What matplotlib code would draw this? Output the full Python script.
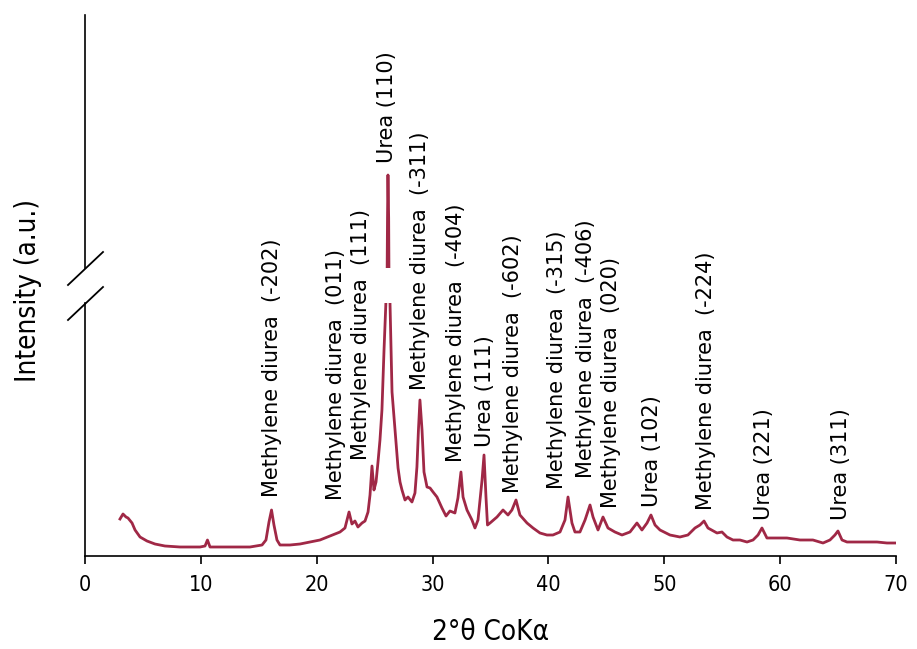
import matplotlib
matplotlib.use("Agg")
import matplotlib.pyplot as plt
from matplotlib.lines import Line2D

two_theta = [3.02, 3.28, 3.54, 3.71, 4.06, 4.32, 4.75, 5.35, 6.04, 6.90, 8.20, 9.93, 10.36, 10.57, 10.79,
             12.51, 14.24, 15.28, 15.62, 15.88, 16.10, 16.31, 16.57, 16.83, 17.69, 18.56, 19.42, 20.28,
             21.15, 22.01, 22.44, 22.79, 23.04, 23.30, 23.56, 23.91, 24.17, 24.43, 24.60, 24.77, 24.94,
             25.12, 25.29, 25.46, 25.63, 25.81, 25.98, 26.02, 26.11, 26.15, 26.21, 26.28, 26.32, 26.50,
             26.76, 27.02, 27.19, 27.36, 27.62, 27.88, 28.22, 28.48, 28.65, 28.78, 28.91, 29.09, 29.26,
             29.52, 29.78, 30.04, 30.38, 30.81, 31.16, 31.50, 31.93, 32.19, 32.45, 32.63, 32.97, 33.40,
             33.66, 33.92, 34.27, 34.44, 34.61, 34.74, 34.96, 35.56, 36.08, 36.51, 36.85, 37.20, 37.54,
             38.15, 38.67, 39.27, 39.87, 40.39, 41.00, 41.43, 41.69, 42.03, 42.29, 42.72, 43.16, 43.59,
             43.85, 44.28, 44.71, 45.14, 45.74, 46.35, 47.04, 47.64, 48.07, 48.51, 48.85, 49.20, 49.63,
             50.49, 51.35, 52.04, 52.65, 53.08, 53.43, 53.77, 54.55, 54.98, 55.41, 55.93, 56.53, 57.14,
             57.66, 58.09, 58.43, 58.86, 59.38, 60.59, 61.71, 62.83, 63.70, 64.30, 64.73, 64.99, 65.34,
             65.77, 66.89, 68.36, 69.22, 69.91]
intensity = [370, 420, 390, 380, 330, 260, 190, 150, 120, 100, 90, 90, 100, 160, 90,
             90, 90, 110, 160, 340, 460, 310, 160, 110, 110, 120, 140, 160,
             200, 240, 280, 440, 320, 350, 290, 330, 350, 440, 610, 900, 660,
             740, 940, 1160, 1460, 2060, 2560, 3000, 4500, 4930, 4500, 3000, 2560, 1640,
             1260, 880, 740, 660, 560, 590, 540, 630, 890, 1260, 1560, 1260, 840,
             690, 680, 640, 590, 480, 400, 450, 430, 580, 840, 590, 460, 360,
             280, 360, 760, 1010, 590, 310, 330, 390, 460, 410, 460, 560, 410,
             330, 280, 230, 210, 210, 240, 360, 590, 330, 240, 240, 360, 510,
             390, 260, 390, 280, 240, 210, 240, 330, 260, 330, 410, 310, 260,
             210, 190, 210, 280, 310, 350, 280, 230, 240, 190, 160, 160, 140,
             160, 210, 280, 180, 180, 180, 160, 160, 130, 160, 210, 250, 160,
             140, 140, 140, 130, 130]

peak_labels = ["Methylene diurea  (-202)", "Methylene diurea  (011)", "Methylene diurea  (111)",
               "Urea (110)", "Methylene diurea  (-311)", "Methylene diurea  (-404)", "Urea (111)",
               "Methylene diurea  (-602)", "Methylene diurea  (-315)", "Methylene diurea  (-406)",
               "Methylene diurea  (020)", "Urea (102)", "Methylene diurea  (-224)", "Urea (221)",
               "Urea (311)"]
label_x = [16.10, 21.66, 23.82, 26.07, 28.91, 32.02, 34.52, 36.94, 40.74, 43.24, 45.40, 48.94,
           53.60, 58.61, 65.25]
label_y = [590, 560, 960, 3930, 1660, 940, 1090, 630, 670, 780, 480, 490, 460, 360, 360]

x_ticks = [0, 10, 20, 30, 40, 50, 60, 70]

line_color = "#A02846"
W, H = 917, 649
fig = plt.figure(figsize=(W / 100, H / 100), dpi=100)

left, right = 85 / W, 896 / W
ax_lo = fig.add_axes([left, (H - 556) / H, right - left, 253 / H])
ax_hi = fig.add_axes([left, (H - 268) / H, right - left, 253 / H])

for ax in (ax_lo, ax_hi):
    ax.plot(two_theta, intensity, color=line_color, lw=2.0)
    ax.set_xlim(0, 70)
    ax.spines["top"].set_visible(False)
    ax.spines["right"].set_visible(False)
    ax.spines["left"].set_linewidth(1.2)
    ax.set_yticks([])
    ax.patch.set_alpha(0)

ax_lo.set_ylim(0, 2530)
ax_hi.set_ylim(4000, 6530)
ax_hi.spines["bottom"].set_visible(False)
ax_hi.set_xticks([])
ax_lo.spines["bottom"].set_linewidth(1.2)
ax_lo.set_xticks(x_ticks)
ax_lo.tick_params(axis="x", direction="out", length=6, width=1.2, labelsize=15.5, pad=8)
for t in ax_lo.get_xticklabels():
    t.set_fontstretch("condensed")

ax_lo.set_xlabel("2°θ CoKα", fontsize=20, fontstretch="condensed", labelpad=16)
fig.text(28 / W, 1 - 290 / H, "Intensity (a.u.)", rotation=90, ha="center", va="center",
         fontsize=20, fontstretch="condensed")

for lx, ly, txt in zip(label_x, label_y, peak_labels):
    ax_lo.text(lx, ly, txt, rotation=90, ha="center", va="bottom", fontsize=15, clip_on=False)

# axis break marks
for y0, y1 in [(285, 252), (320, 287)]:
    fig.add_artist(Line2D([68 / W, 103 / W], [1 - y0 / H, 1 - y1 / H], color="black", lw=1.3))

fig.savefig("out.png", dpi=100)
